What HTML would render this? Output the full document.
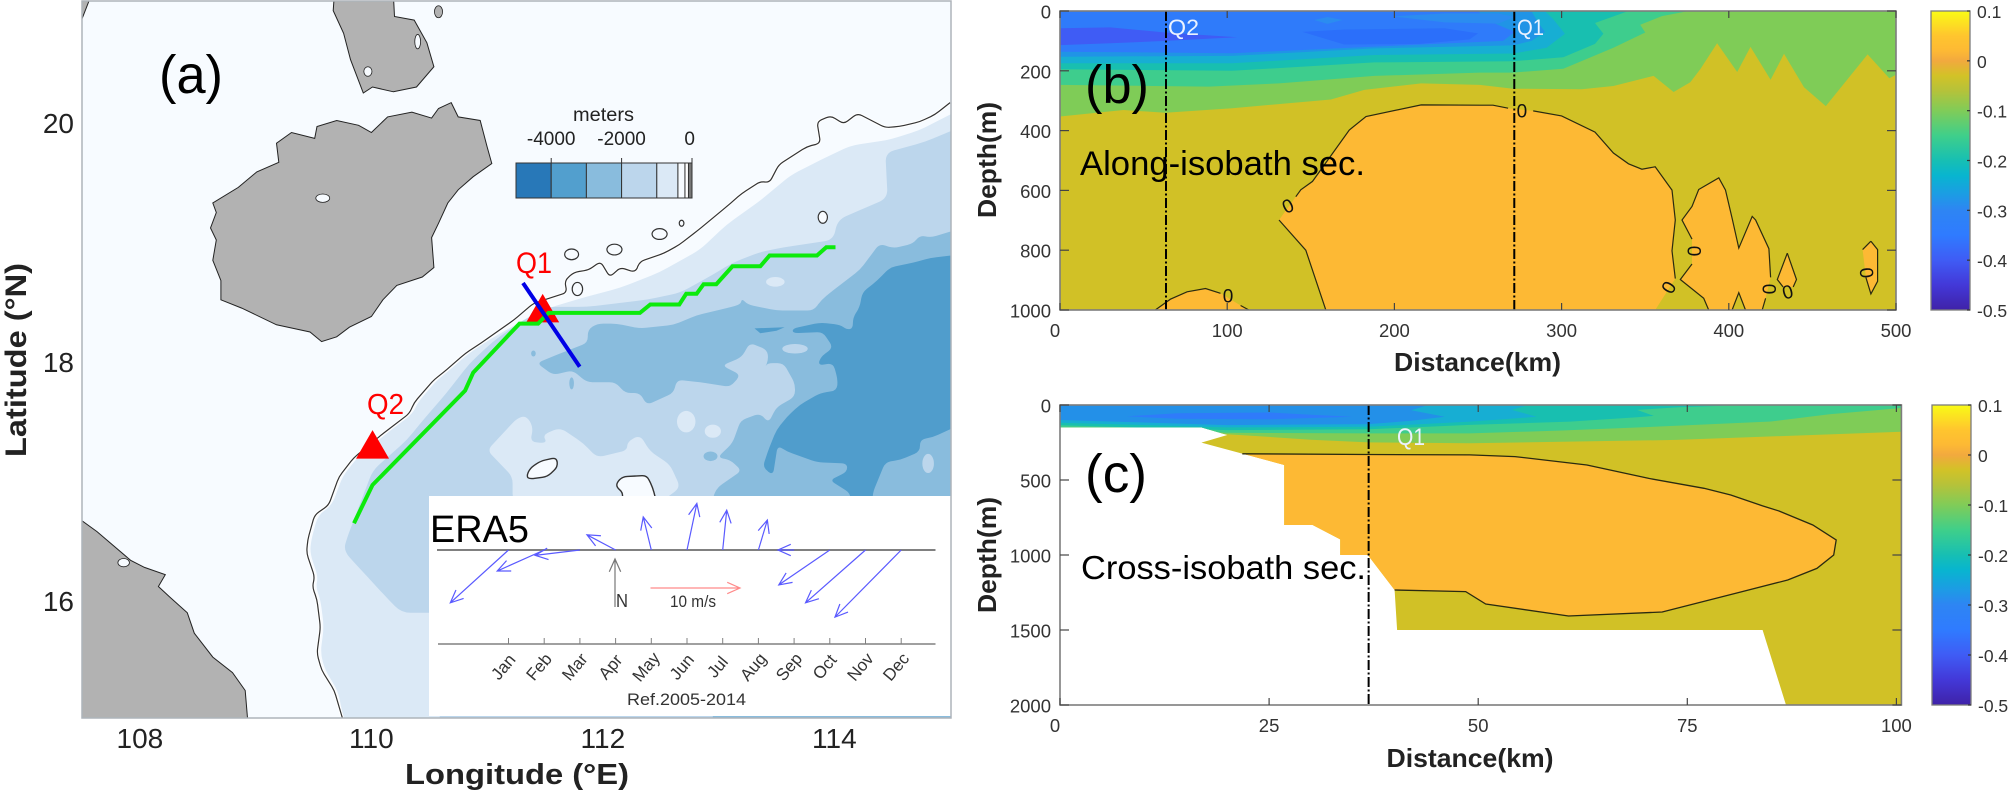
<!DOCTYPE html>
<html lang="en">
<head>
<meta charset="utf-8">
<title>Bathymetry map and velocity sections</title>
<style>
html,body{margin:0;padding:0;background:#fff;}
svg{display:block;font-family:"Liberation Sans",Arial,sans-serif;}
</style>
</head>
<body>
<svg id="figure" xmlns="http://www.w3.org/2000/svg" width="2008" height="793" viewBox="0 0 2008 793">
  <defs id="defs">
    <clipPath id="clip-map"><rect x="82" y="1" width="869" height="717"/></clipPath>
    <clipPath id="clip-b"><rect x="1060" y="11" width="836" height="299"/></clipPath>
    <clipPath id="clip-c-mask"></clipPath>
  </defs>
  <rect x="0" y="0" width="2008" height="793" fill="#fff"/>
  <g id="map-layer" clip-path="url(#clip-map)"></g>
  <g id="map-overlay"></g>
  <g id="inset"></g>
  <g id="legend"></g>
  <g id="panel-b"></g>
  <g id="panel-c"></g>
  <g id="axes"></g>

  <text x="191" y="93" font-size="54" text-anchor="middle" textLength="64" lengthAdjust="spacingAndGlyphs" fill="#000">(a)</text>
  <text x="1117" y="103" font-size="54" text-anchor="middle" textLength="64" lengthAdjust="spacingAndGlyphs" fill="#000">(b)</text>
  <text x="1116" y="492" font-size="54" text-anchor="middle" textLength="62" lengthAdjust="spacingAndGlyphs" fill="#000">(c)</text>
  <text x="1080" y="175" font-size="34" textLength="285" lengthAdjust="spacingAndGlyphs" fill="#000">Along-isobath sec.</text>
  <text x="1081" y="579" font-size="33" textLength="285" lengthAdjust="spacingAndGlyphs" fill="#000">Cross-isobath sec.</text>

  <text x="534" y="273" font-size="30" text-anchor="middle" textLength="36" lengthAdjust="spacingAndGlyphs" fill="#ff0000">Q1</text>
  <text x="385.5" y="414" font-size="29" text-anchor="middle" textLength="37" lengthAdjust="spacingAndGlyphs" fill="#ff0000">Q2</text>

  <text x="430" y="542" font-size="38" textLength="99" lengthAdjust="spacingAndGlyphs" fill="#000">ERA5</text>
  <text x="627" y="705" font-size="17" textLength="119" lengthAdjust="spacingAndGlyphs" fill="#333">Ref.2005-2014</text>
  <text x="616" y="607" font-size="18" textLength="12" lengthAdjust="spacingAndGlyphs" fill="#333">N</text>
  <text x="670" y="607" font-size="17" textLength="46" lengthAdjust="spacingAndGlyphs" fill="#333">10 m/s</text>

  <text x="603.5" y="121" font-size="19" text-anchor="middle" textLength="61" lengthAdjust="spacingAndGlyphs" fill="#222">meters</text>

  <text x="517" y="784" font-size="29" font-weight="bold" text-anchor="middle" textLength="224" lengthAdjust="spacingAndGlyphs" fill="#222">Longitude (°E)</text>
  <text transform="translate(26,360) rotate(-90)" font-size="30" font-weight="bold" text-anchor="middle" textLength="194" lengthAdjust="spacingAndGlyphs" fill="#222">Latitude (°N)</text>
  <text x="1477.5" y="371" font-size="26" font-weight="bold" text-anchor="middle" textLength="167" lengthAdjust="spacingAndGlyphs" fill="#222">Distance(km)</text>
  <text x="1470" y="767" font-size="26" font-weight="bold" text-anchor="middle" textLength="167" lengthAdjust="spacingAndGlyphs" fill="#222">Distance(km)</text>
  <text transform="translate(996,160) rotate(-90)" font-size="26" font-weight="bold" text-anchor="middle" textLength="116" lengthAdjust="spacingAndGlyphs" fill="#222">Depth(m)</text>
  <text transform="translate(996,555) rotate(-90)" font-size="26" font-weight="bold" text-anchor="middle" textLength="116" lengthAdjust="spacingAndGlyphs" fill="#222">Depth(m)</text>

  <text x="1183.5" y="35" font-size="22" text-anchor="middle" textLength="31" lengthAdjust="spacingAndGlyphs" fill="#eaf2ff">Q2</text>
  <text x="1530.5" y="35" font-size="22" text-anchor="middle" textLength="27" lengthAdjust="spacingAndGlyphs" fill="#eaf2ff">Q1</text>
  <text x="1411" y="445" font-size="24" text-anchor="middle" textLength="28" lengthAdjust="spacingAndGlyphs" fill="#eaf2ff">Q1</text>

<script>
/* ---------- Map axis ---------- */
const lonTicks = [108, 110, 112, 114];
const latTicks = [20, 18, 16];

/* ---------- Map data, all in [longitude, latitude] ---------- */
const isobathLine = [[109.75,15.0],[109.68,15.23],[109.57,15.40],[109.53,15.54],[109.56,15.76],[109.53,15.99],[109.49,16.10],[109.51,16.18],[109.44,16.38],[109.45,16.49],[109.51,16.70],[109.63,16.78],[109.72,17.02],[109.85,17.18],[110.10,17.38],[110.33,17.55],[110.37,17.64],[110.54,17.83],[110.62,17.89],[110.81,18.05],[110.98,18.16],[111.23,18.33],[111.40,18.47],[111.69,18.56],[111.67,18.66],[111.75,18.73],[111.88,18.75],[111.98,18.82],[112.06,18.69],[112.15,18.77],[112.28,18.73],[112.32,18.82],[112.53,18.89],[112.66,18.96],[112.82,19.08],[113.07,19.28],[113.20,19.39],[113.36,19.49],[113.44,19.48],[113.52,19.63],[113.76,19.78],[113.88,19.81],[113.85,19.99],[113.97,20.04],[114.08,19.97],[114.20,20.06],[114.44,19.94],[114.56,19.95],[114.74,19.99],[114.87,20.05],[115.0,20.15]];

const hainanCoast = [[110.69,20.15],[110.75,20.03],[110.94,20.00],[111.00,19.78],[111.04,19.64],[110.88,19.53],[110.75,19.42],[110.66,19.31],[110.58,19.14],[110.52,19.02],[110.54,18.77],[110.44,18.69],[110.22,18.62],[110.10,18.50],[110.00,18.36],[109.81,18.27],[109.70,18.19],[109.57,18.15],[109.47,18.23],[109.18,18.29],[108.88,18.43],[108.70,18.50],[108.70,18.66],[108.63,18.83],[108.66,19.00],[108.61,19.10],[108.66,19.23],[108.63,19.31],[108.85,19.44],[109.01,19.57],[109.20,19.65],[109.18,19.81],[109.31,19.90],[109.51,19.85],[109.53,19.95],[109.70,20.00],[109.89,19.96],[110.00,19.90],[110.14,20.03],[110.35,20.07],[110.52,20.02],[110.58,20.10]];
const leizhouCoast = [[109.68,21.05],[109.67,20.92],[109.76,20.73],[109.82,20.51],[109.93,20.23],[110.01,20.28],[110.19,20.24],[110.39,20.28],[110.54,20.45],[110.48,20.65],[110.37,20.84],[110.20,20.87],[110.19,21.05]];
const vietnamCoast = [[107.5,16.65],[107.63,16.56],[107.92,16.32],[108.04,16.26],[108.22,16.20],[108.16,16.10],[108.26,16.01],[108.41,15.88],[108.47,15.71],[108.63,15.51],[108.80,15.38],[108.91,15.23],[108.93,15.0],[107.5,15.0]];
const cornerLand = [[107.4,21.05],[107.58,21.05],[107.5,20.85],[107.4,20.85]];

const shelfLight = [[109.78,14.9],[109.71,15.23],[109.60,15.40],[109.56,15.54],[109.59,15.76],[109.56,15.99],[109.52,16.10],[109.54,16.18],[109.47,16.38],[109.48,16.49],[109.54,16.70],[109.66,16.78],[109.75,17.02],[109.88,17.18],[110.13,17.38],[110.36,17.55],[110.40,17.64],[110.57,17.83],[110.65,17.89],[110.84,18.05],[111.01,18.16],[111.26,18.30],[111.46,18.41],[111.80,18.51],[112.15,18.60],[112.49,18.73],[112.84,18.92],[113.07,19.13],[113.36,19.33],[113.62,19.54],[113.88,19.67],[114.14,19.79],[114.48,19.84],[114.74,19.92],[115.1,20.10],[115.1,14.9]];
const slopeMid = [[115.1,19.95],[114.78,19.82],[114.44,19.73],[114.46,19.35],[114.22,19.25],[114.03,19.17],[113.99,19.00],[113.57,18.94],[113.36,18.90],[113.12,18.81],[112.95,18.71],[112.67,18.56],[112.38,18.50],[111.86,18.44],[111.52,18.44],[111.28,18.31],[111.05,18.15],[110.85,17.97],[110.65,17.72],[110.47,17.52],[110.31,17.33],[110.01,17.07],[109.85,16.66],[109.79,16.51],[109.76,16.40],[109.91,16.24],[110.10,16.04],[110.26,15.88],[110.59,15.88],[110.59,14.9],[115.1,14.9]];
const seamountLight = [[111.00,17.24],[111.26,17.51],[111.34,17.53],[111.40,17.43],[111.37,17.31],[111.52,17.30],[111.48,17.37],[111.63,17.43],[111.83,17.30],[111.95,17.18],[112.21,17.24],[112.21,17.31],[112.32,17.37],[112.41,17.23],[112.58,17.12],[112.67,16.93],[112.52,16.82],[111.22,16.82],[111.22,17.02]];
const basinUpper = [[111.43,17.97],[111.63,18.05],[111.87,18.14],[111.87,18.25],[111.95,18.30],[112.12,18.30],[112.32,18.26],[112.61,18.29],[112.81,18.37],[113.07,18.43],[113.19,18.46],[113.20,18.51],[113.25,18.46],[113.50,18.41],[113.82,18.41],[113.89,18.50],[113.99,18.58],[114.22,18.75],[114.33,18.89],[114.39,18.97],[114.51,18.93],[114.68,18.97],[114.74,19.04],[114.83,19.02],[115.1,19.10],[115.1,14.9],[112.95,14.9],[112.95,16.85],[112.99,16.93],[113.20,17.07],[113.10,17.16],[112.99,17.18],[113.12,17.30],[113.19,17.49],[113.36,17.55],[113.43,17.47],[113.50,17.60],[113.66,17.69],[113.66,17.80],[113.56,17.97],[113.42,17.97],[113.40,17.93],[113.43,18.00],[113.42,18.08],[113.27,18.14],[113.20,18.02],[113.03,17.95],[113.19,17.87],[113.10,17.77],[112.84,17.81],[112.64,17.83],[112.61,17.72],[112.38,17.62],[112.32,17.72],[112.19,17.72],[112.11,17.81],[111.86,17.81],[111.74,17.91],[111.57,17.87]];
const basinDeep = [[115.1,18.88],[114.83,18.85],[114.68,18.81],[114.48,18.77],[114.37,18.66],[114.24,18.56],[114.22,18.44],[114.16,18.35],[114.16,18.26],[114.11,18.25],[114.05,18.29],[113.88,18.31],[113.64,18.26],[113.64,18.22],[113.90,18.23],[113.99,18.10],[113.88,18.02],[113.86,17.95],[113.99,17.97],[114.03,17.83],[114.02,17.74],[113.88,17.72],[113.70,17.62],[113.59,17.52],[113.50,17.41],[113.44,17.27],[113.38,17.10],[113.47,17.03],[113.51,17.28],[113.59,17.23],[113.85,17.14],[114.11,17.13],[114.11,17.06],[113.96,16.99],[114.14,16.88],[114.14,16.65],[114.33,16.65],[114.33,16.88],[114.44,17.14],[114.57,17.16],[114.74,17.23],[114.74,17.33],[114.85,17.35],[115.1,17.46]];
const deepStrip = [[113.31,18.26],[113.57,18.27],[113.50,18.24],[113.36,18.22]];

/* Oval features: [lon, lat, radius in degrees lon, radius in degrees lat] */
const lightOvals = [[112.72,17.48,0.08,0.09],[112.95,17.40,0.07,0.055],[113.49,18.65,0.08,0.04]];
const midOvalsOnBasin = [[113.66,18.09,0.11,0.04],[114.81,17.13,0.05,0.08]];
const basinDots = [[112.93,17.19,0.06,0.04],[111.73,17.80,0.02,0.05],[111.40,18.05,0.02,0.025]];
const contourOvals = [[111.73,18.88,0.06,0.045],[112.10,18.92,0.065,0.045],[112.49,19.05,0.065,0.045],[112.68,19.14,0.02,0.025],[111.78,18.59,0.045,0.055],[113.90,19.19,0.04,0.05]];
const contourIslandA = [[111.34,17.02],[111.37,17.09],[111.46,17.15],[111.60,17.18],[111.61,17.10],[111.52,17.02],[111.37,17.00]];
const contourIslandB = [[112.12,16.97],[112.17,17.02],[112.38,17.03],[112.43,16.93],[112.46,16.82],[112.17,16.82],[112.17,16.89],[112.12,16.93]];
const lakes = [[109.58,19.35,0.06,0.035],[109.97,20.41,0.035,0.04],[110.40,20.66,0.025,0.06],[107.86,16.30,0.05,0.035]];
const smallIslands = [[110.58,20.91,0.035,0.05]];

const alongIsobathSection = [[109.85,16.63],[110.01,16.95],[110.81,17.74],[110.88,17.89],[111.28,18.30],[111.44,18.30],[111.53,18.39],[112.32,18.39],[112.41,18.46],[112.66,18.46],[112.72,18.55],[112.81,18.55],[112.87,18.63],[112.98,18.63],[113.12,18.78],[113.36,18.78],[113.44,18.87],[113.85,18.87],[113.93,18.94],[114.01,18.94]];
const crossIsobathSection = [[111.31,18.64],[111.80,17.94]];
const stationLon = [111.48, 110.01];
const stationLat = [18.39, 17.25];

/* ---------- Inset: monthly wind vectors (m/s) ---------- */
const months = ["Jan","Feb","Mar","Apr","May","Jun","Jul","Aug","Sep","Oct","Nov","Dec"];
const windU = [-6.5,-5.25,-5.0,-3.2,-0.9,1.1,0.45,1.0,-1.8,-5.7,-6.7,-7.4];
const windV = [-5.9,-2.35,-0.6,1.7,3.7,5.2,4.45,3.35,0,-3.9,-5.9,-7.5];
const scaleArrowSpeed = [10];

/* ---------- Depth legend ---------- */
const legendLevels = [-5000,-4000,-3000,-2000,-1000,-400,-200,-100,0];
const legendColors = ["#2878b8","#529fce","#89bcdd","#bcd6ec","#dbe9f6","#f7fbff","#ffffff","#777777"];
const legendTicks = [-4000,-2000,0];

/* ---------- Colour bar ---------- */
const colorbarTicks = [0.1,0,-0.1,-0.2,-0.3,-0.4,-0.5];
const colorbarStopValues = [0.1,0.05,0.02,0,-0.03,-0.06,-0.1,-0.15,-0.2,-0.23,-0.27,-0.3,-0.35,-0.4,-0.45,-0.5];
const colorbarStopColors = ["#f9fb15","#ffc52e","#fdb934","#f2a93e","#d2c227","#b5c23a","#80cc58","#3fcf8a","#17bfb3","#08b5cf","#1d9be5","#2e85f3","#2f7bff","#3f5cf5","#4338d8","#3f22a8"];

/* ---------- Panel b: [distance km, depth m] ---------- */
const bDistanceTicks = [0,100,200,300,400,500];
const bDepthTicks = [0,200,400,600,800,1000];
const bStationKm = [63.4, 271.7];
const bDepthMax = [1000];
const bBandGreenLight = [[0,0],[500,0],[500,213],[496,225],[483,145],[458,318],[445,255],[433,143],[425,230],[413,120],[405,204],[393,108],[383,194],[377,238],[367,271],[355,217],[331,251],[312,262],[271,260],[251,247],[216,242],[182,264],[162,296],[103,325],[63,340],[38,331],[0,353]];
const bBandGreen = [[0,0],[376,0],[360,17],[347,46],[350,72],[331,123],[301,193],[271,206],[251,206],[188,217],[131,242],[89,253],[46,250],[0,247]];
const bBandTeal = [[0,0],[340,0],[320,40],[325,76],[320,110],[301,155],[271,168],[188,172],[103,200],[0,195]];
const bBandCyan = [[0,0],[290,0],[295,27],[302,76],[291,123],[271,142],[188,147],[103,175],[0,175]];
const bBandSky = [[0,0],[282,0],[285,30],[290,70],[282,100],[271,115],[230,120],[188,125],[103,150],[0,153]];
const bBandBlue = [[0,0],[250,0],[255,30],[272,70],[265,100],[225,110],[188,119],[103,141],[0,136]];
const bPatchSkyA = [[152,30],[160,20],[169,30],[160,43]];
const bPatchSkyB = [[199,18],[230,8],[262,8],[272,20],[262,42],[230,38]];
const bPatchDeepBlue = [[145,70],[170,62],[230,58],[250,75],[245,95],[215,110],[170,112]];
const bPatchIndigo = [[0,58],[30,55],[63,72],[106,88],[63,100],[30,108],[0,114]];
/* zero-contours; null marks a gap left for a contour label */
const bZeroMain = [[159,1000],[157,967],[147,800],[131,699],null,[141,621],[144,598],[151,570],[173,398],[183,353],[216,314],[251,315],[259,315],[268,325],null,[283,334],[300,351],[320,405],[331,475],[340,511],[348,529],[356,521],[366,599],[368,699],[366,802],[368,895],null,[356,1000]];
const bZeroSecond = [[388,1000],[385,961],[371,898],[378,846],null,[378,763],[372,699],[378,654],[382,597],[394,558],[398,599],[402,693],[406,793],[414,687],[416,699],[424,795],[425,891],null,[422,961],[420,1000],[410,1000],[406,942],[402,1000]];
const bZeroThird = [[435,810],[440.5,898],[438.5,923],null,[432.5,923],[429,898],[435,810]];
const bZeroFourth = [[485,770],[489,798],[489,904],[485,946],[482,891],null,[480,798],[485,770]];
const bZeroFifth = [[57,1000],[66,964],[76,939],[87,928],[96,944],null,[108,985],[113,1000]];
const bLabelKm = [136.6,100.5,276.3,378.6,364.6,423.4,435.4,481.8];
const bLabelDepth = [655,956,338,803,926,930,943,876];
const bLabelAngle = [-25,0,0,90,-60,90,-15,85];

/* ---------- Panel c: [distance km, depth m] ---------- */
const cDistanceTicks = [0,25,50,75,100];
const cDepthTicks = [0,500,1000,1500,2000];
const cStationKm = [36.9];
const cOceanOutline = [[0,0],[100.6,0],[100.6,2000],[86.8,2000],[84,1500],[40.3,1500],[40,1233],[36.8,1000],[33.5,1000],[33.5,896],[30.2,800],[26.8,800],[26.8,400],[16.9,251],[20,200],[16.9,149],[0,149]];
const cBandGreenLight = [[0,0],[100.6,0],[100.6,178],[73.7,233],[49,255],[36.9,249],[30,232],[25,213],[20,195],[0,170]];
const cBandGreen = [[0,0],[100.6,0],[100.6,20],[92,62],[85,110],[71,145],[60,170],[49,189],[36.9,189],[20,185],[0,150]];
const cBandTeal = [[0,0],[82,0],[74,15],[69,33],[71,73],[69,82],[61,111],[49,133],[36.9,162],[20,167],[0,135]];
const cBandCyan = [[0,0],[56,0],[54,33],[57,78],[53,95],[49,111],[36.9,145],[20,149],[0,118]];
const cBandSky = [[0,0],[44,0],[42,35],[46,78],[42,105],[36.9,127],[20,134],[0,100]];
const cPatchBlue = [[8,75],[14,55],[25,50],[30,65],[35,78],[25,95],[14,92]];
const cZeroContour = [[21.8,325],[36.9,330],[49,333],[54.4,344],[63,400],[70.4,489],[77,555],[80.2,600],[84,673],[86,707],[90,800],[92.8,900],[92.5,1000],[90.5,1089],[87,1167],[81.5,1245],[72,1380],[60.8,1407],[50.9,1327],[48.5,1244],[40,1233]];

/* ---------- Scales ---------- */
const xMap = lon => 82 + (lon - 107.5) * 115.75;
const yMap = lat => 1 + (21 - lat) * 119.5;
const xB = km => 1060 + km * 1.672;
const yB = d => 11 + d * 0.299;
const xC = km => 1060 + km * 8.364;
const yC = d => 405 + d * 0.15;
const monthX = i => 508.5 + i * 35.7;
const speedPx = s => s * 8.95;
const legendX = v => 692 + v * 0.0352;

const NS = 'http://www.w3.org/2000/svg';
function make(parent, tag, attrs, text) {
  const n = document.createElementNS(NS, tag);
  for (const k in attrs) n.setAttribute(k, attrs[k]);
  if (text !== undefined) n.textContent = text;
  parent.appendChild(n);
  return n;
}
const toPts = (arr, fx, fy) => arr.filter(p => p).map(p => fx(p[0]).toFixed(1) + ',' + fy(p[1]).toFixed(1)).join(' ');
function splitRuns(arr) {
  const runs = [];
  let cur = [];
  arr.forEach(p => { if (p) cur.push(p); else { runs.push(cur); cur = []; } });
  runs.push(cur);
  return runs;
}
/* Rounds every vertex of a projected outline so contour bands read as smooth curves */
function roundedPath(arr, fx, fy, closed, radius) {
  const p = arr.map(q => [fx(q[0]), fy(q[1])]);
  const n = p.length;
  const step = (a, b, r) => {
    const dx = b[0] - a[0], dy = b[1] - a[1];
    const len = Math.hypot(dx, dy) || 1;
    const t = Math.min(r, len / 2) / len;
    return [a[0] + dx * t, a[1] + dy * t];
  };
  let d = '';
  const first = closed ? 0 : 1;
  const last = closed ? n - 1 : n - 2;
  if (!closed) d = 'M' + p[0][0].toFixed(1) + ' ' + p[0][1].toFixed(1);
  for (let i = first; i <= last; i++) {
    const prev = p[(i - 1 + n) % n], cur = p[i], next = p[(i + 1) % n];
    const a = step(cur, prev, radius), b = step(cur, next, radius);
    d += (d ? 'L' : 'M') + a[0].toFixed(1) + ' ' + a[1].toFixed(1) + 'Q' + cur[0].toFixed(1) + ' ' + cur[1].toFixed(1) + ' ' + b[0].toFixed(1) + ' ' + b[1].toFixed(1);
  }
  if (!closed) d += 'L' + p[n-1][0].toFixed(1) + ' ' + p[n-1][1].toFixed(1);
  else d += 'Z';
  return d;
}

const mapG = document.getElementById('map-layer');
const overlayG = document.getElementById('map-overlay');
const insetG = document.getElementById('inset');
const legendG = document.getElementById('legend');
const bG = document.getElementById('panel-b');
const cG = document.getElementById('panel-c');
const axesG = document.getElementById('axes');

/* ---------- Map ---------- */
const sea = make(mapG, 'rect', {x:82, y:1, width:869, height:717, fill:'#f7fbff'});



const shelf = make(mapG, 'path', {d: roundedPath(shelfLight, xMap, yMap, true, 9), fill:'#dbe9f6'});



const slope = make(mapG, 'path', {d: roundedPath(slopeMid, xMap, yMap, true, 9), fill:'#bcd6ec'});



const mount = make(mapG, 'path', {d: roundedPath(seamountLight, xMap, yMap, true, 7), fill:'#dbe9f6'});



lightOvals.forEach(o => {
  const e = make(mapG, 'ellipse', {cx:xMap(o[0]), cy:yMap(o[1]), rx:o[2]*115.75, ry:o[3]*119.5, fill:'#dbe9f6'});
  
  
});

const upper = make(mapG, 'path', {d: roundedPath(basinUpper, xMap, yMap, true, 6), fill:'#89bcdd'});



basinDots.forEach(o => {
  const e = make(mapG, 'ellipse', {cx:xMap(o[0]), cy:yMap(o[1]), rx:o[2]*115.75, ry:o[3]*119.5, fill:'#89bcdd'});
  
  
});

const deep = make(mapG, 'path', {d: roundedPath(basinDeep, xMap, yMap, true, 6), fill:'#509dcc'});



const strip = make(mapG, 'polygon', {points: toPts(deepStrip, xMap, yMap), fill:'#509dcc'});



midOvalsOnBasin.forEach(o => {
  const e = make(mapG, 'ellipse', {cx:xMap(o[0]), cy:yMap(o[1]), rx:o[2]*115.75, ry:o[3]*119.5, fill:'#bcd6ec'});
  
  
});

const halo = make(mapG, 'path', {d: roundedPath(isobathLine, xMap, yMap, false, 5), fill:'none', stroke:'#ffffff', 'stroke-width':3.2});



const iso = make(mapG, 'path', {d: roundedPath(isobathLine, xMap, yMap, false, 5), fill:'none', stroke:'#333', 'stroke-width':1.2});



contourOvals.forEach(o => {
  const e = make(mapG, 'ellipse', {cx:xMap(o[0]), cy:yMap(o[1]), rx:o[2]*115.75, ry:o[3]*119.5, fill:'#f7fbff', stroke:'#333', 'stroke-width':1.2});
  
  
});

[contourIslandA, contourIslandB].forEach(a => {
  const e = make(mapG, 'path', {d: roundedPath(a, xMap, yMap, true, 5), fill:'#f7fbff', stroke:'#333', 'stroke-width':1.4});
  
  
});

[hainanCoast, leizhouCoast, vietnamCoast, cornerLand].forEach(a => {
  const e = make(mapG, 'polygon', {points: toPts(a, xMap, yMap), fill:'#b2b2b2', stroke:'#222', 'stroke-width':1});
  
  
});

lakes.forEach(o => {
  const e = make(mapG, 'ellipse', {cx:xMap(o[0]), cy:yMap(o[1]), rx:o[2]*115.75, ry:o[3]*119.5, fill:'#f7fbff', stroke:'#222', 'stroke-width':0.8});
  
  
});

smallIslands.forEach(o => {
  const e = make(mapG, 'ellipse', {cx:xMap(o[0]), cy:yMap(o[1]), rx:o[2]*115.75, ry:o[3]*119.5, fill:'#b2b2b2', stroke:'#222', 'stroke-width':0.8});
  
  
});

stationLon.forEach((lon, i) => {
  const cx = xMap(lon);
  const cy = yMap(stationLat[i]);
  const t = make(overlayG, 'polygon', {points: cx + ',' + (cy-19) + ' ' + (cx-16.5) + ',' + (cy+9.5) + ' ' + (cx+16.5) + ',' + (cy+9.5), fill:'#ff0000'});
  
  
});

const greenLine = make(overlayG, 'polyline', {points: toPts(alongIsobathSection, xMap, yMap), fill:'none', stroke:'#0cea0c', 'stroke-width':4, 'stroke-linejoin':'miter'});



const blueLine = make(overlayG, 'polyline', {points: toPts(crossIsobathSection, xMap, yMap), fill:'none', stroke:'#0000e6', 'stroke-width':4});



/* ---------- Inset ---------- */
const insetBg = make(insetG, 'rect', {x:429, y:496, width:522, height:220, fill:'#ffffff'});



const zeroAxis = make(insetG, 'line', {x1:437, y1:550, x2:935.5, y2:550, stroke:'#808080', 'stroke-width':2});



const monthAxis = make(insetG, 'line', {x1:438, y1:644, x2:935.5, y2:644, stroke:'#808080', 'stroke-width':1.6});



function arrow(parent, x0, y0, x1, y1, color, headLen) {
  const ang = Math.atan2(y1 - y0, x1 - x0);
  const a = ang + Math.PI - 0.42;
  const b = ang + Math.PI + 0.42;
  const d = 'M' + x0 + ' ' + y0 + 'L' + x1 + ' ' + y1 +
    'M' + (x1 + headLen*Math.cos(a)) + ' ' + (y1 + headLen*Math.sin(a)) +
    'L' + x1 + ' ' + y1 +
    'L' + (x1 + headLen*Math.cos(b)) + ' ' + (y1 + headLen*Math.sin(b));
  return make(parent, 'path', {d: d, fill:'none', stroke:color, 'stroke-width':1.2});
}

months.forEach((m, i) => {
  const x = monthX(i);
  const tick = make(insetG, 'line', {x1:x, y1:638, x2:x, y2:644, stroke:'#808080', 'stroke-width':1});
  
  

  const lx = x - 5;
  const ly = 667;
  const lab = make(insetG, 'text', {x:lx, y:ly, 'font-size':17, 'text-anchor':'middle', 'dominant-baseline':'central', fill:'#333', transform:'rotate(-50 ' + lx + ' ' + ly + ')'}, m);
  
  

  const v = arrow(insetG, x, 550, x + speedPx(windU[i]), 550 - speedPx(windV[i]), '#5a5aff', 14);
  
  
});

const northArrow = arrow(insetG, 615, 607, 615, 559, '#777', 14);



const scaleArrow = arrow(insetG, 650.5, 588, 650.5 + speedPx(scaleArrowSpeed[0]), 588, '#ff8a8a', 14);



/* ---------- Legend ---------- */
legendColors.forEach((c, i) => {
  const x0 = legendX(legendLevels[i]);
  const x1 = legendX(legendLevels[i+1]);
  const r = make(legendG, 'rect', {x:x0, y:163, width:x1-x0, height:35, fill:c, stroke:'#333', 'stroke-width':1});
  
  
});

legendTicks.forEach(v => {
  const x = legendX(v);
  const t = make(legendG, 'line', {x1:x, y1:158, x2:x, y2:163, stroke:'#333', 'stroke-width':1});
  
  

  const l = make(legendG, 'text', {x:x, y:145, 'font-size':19, 'text-anchor': v === 0 ? 'end' : 'middle', fill:'#222'}, String(v));
  if (v === 0) l.setAttribute('x', x + 3);
  
  
});

/* ---------- Panel b ---------- */
const bPlot = make(bG, 'g', {'clip-path':'url(#clip-b)'});



const bBase = make(bPlot, 'rect', {x:xB(0), y:yB(0), width:xB(500)-xB(0), height:yB(bDepthMax[0])-yB(0), fill:'#d1c126'});



[bZeroMain, bZeroSecond, bZeroThird, bZeroFourth, bZeroFifth].forEach(a => {
  const o = make(bPlot, 'polygon', {points: toPts(a, xB, yB), fill:'#fdb934'});
  
  
});

const bBands = [bBandGreenLight, bBandGreen, bBandTeal, bBandCyan, bBandSky, bBandBlue, bPatchSkyA, bPatchSkyB, bPatchDeepBlue, bPatchIndigo];
const bBandColors = ['#7fcc57','#3ecd8d','#18bfb0','#17aed3','#2094e6','#2f7bfa','#2b8cf0','#2b8cf0','#2b6ffa','#3f5cf5'];
bBands.forEach((a, i) => {
  const p = make(bPlot, 'polygon', {points: toPts(a, xB, yB), fill:bBandColors[i]});
  
  
});

[bZeroMain, bZeroSecond, bZeroThird, bZeroFourth, bZeroFifth].forEach(a => {
  splitRuns(a).forEach(run => {
    const l = make(bPlot, 'polyline', {points: toPts(run, xB, yB), fill:'none', stroke:'#2a2a10', 'stroke-width':1.2});
    
    
  });
});

bLabelKm.forEach((km, i) => {
  const x = xB(km);
  const y = yB(bLabelDepth[i]);
  const t = make(bPlot, 'text', {x:x, y:y, 'font-size':19, 'text-anchor':'middle', 'dominant-baseline':'central', fill:'#111', transform:'rotate(' + bLabelAngle[i] + ' ' + x + ' ' + y + ')'}, '0');
  
  
});

bStationKm.forEach(km => {
  const l = make(bPlot, 'line', {x1:xB(km), y1:yB(0), x2:xB(km), y2:yB(bDepthMax[0]), stroke:'#000', 'stroke-width':2, 'stroke-dasharray':'10 2.5 2 2.5'});
  
  
});

/* ---------- Panel c ---------- */
document.getElementById('clip-c-mask').appendChild((function () {
  const p = document.createElementNS(NS, 'polygon');
  p.setAttribute('points', toPts(cOceanOutline, xC, yC));
  return p;
})());

const cPlot = make(cG, 'g', {'clip-path':'url(#clip-c-mask)'});



const cBase = make(cPlot, 'rect', {x:xC(0), y:yC(0), width:xC(100.6)-xC(0), height:yC(2000)-yC(0), fill:'#d1c126'});



const cOrange = make(cPlot, 'polygon', {points: toPts(cZeroContour, xC, yC) + ' ' + xC(10) + ',' + yC(1233) + ' ' + xC(10) + ',' + yC(325), fill:'#fdb934'});



const cBands = [cBandGreenLight, cBandGreen, cBandTeal, cBandCyan, cBandSky, cPatchBlue];
const cBandColors = ['#7fcc57','#3ecd8d','#18bfb0','#17aed3','#2390e8','#2f7bfa'];
cBands.forEach((a, i) => {
  const p = make(cPlot, 'polygon', {points: toPts(a, xC, yC), fill:cBandColors[i]});
  
  
});

const cLine = make(cG, 'polyline', {points: toPts(cZeroContour, xC, yC), fill:'none', stroke:'#2a2a10', 'stroke-width':1.3});



cStationKm.forEach(km => {
  const l = make(cG, 'line', {x1:xC(km), y1:yC(0), x2:xC(km), y2:yC(2000), stroke:'#000', 'stroke-width':2, 'stroke-dasharray':'10 2.5 2 2.5'});
  
  
});

/* ---------- Axes ---------- */
const mapFrame = make(axesG, 'rect', {x:82, y:1, width:869, height:717, fill:'none', stroke:'#adb4ba', 'stroke-width':1.5});



lonTicks.forEach(v => {
  const t = make(axesG, 'text', {x:xMap(v), y:748, 'font-size':28, 'text-anchor':'middle', fill:'#222'}, String(v));
  
  
});

latTicks.forEach(v => {
  const t = make(axesG, 'text', {x:74, y:yMap(v) + 12.5, 'font-size':28, 'text-anchor':'end', fill:'#222'}, String(v));
  
  
});

function sectionAxes(g, fx, fy, kmTicks, depthTicks, kmMax, depthMax, labelBaseline) {
  const left = fx(0), right = fx(kmMax), top = fy(0), bottom = fy(depthMax);
  const frame = make(g, 'rect', {x:left, y:top, width:right-left, height:bottom-top, fill:'none', stroke:'#7d7d7d', 'stroke-width':1.6});
  
  

  kmTicks.forEach(k => {
    const x = fx(k);
    const tt = make(g, 'line', {x1:x, y1:top, x2:x, y2:top+7, stroke:'#444', 'stroke-width':1.2});
    
    

    const tb = make(g, 'line', {x1:x, y1:bottom, x2:x, y2:bottom-7, stroke:'#444', 'stroke-width':1.2});
    
    

    const lab = make(g, 'text', {x: k === 0 ? x - 5 : x, y:labelBaseline, 'font-size':18.5, 'text-anchor':'middle', fill:'#333'}, String(k));
    
    
  });

  depthTicks.forEach(d => {
    const y = fy(d);
    const tl = make(g, 'line', {x1:left, y1:y, x2:left+9, y2:y, stroke:'#444', 'stroke-width':1.2});
    
    

    const tr = make(g, 'line', {x1:right, y1:y, x2:right-9, y2:y, stroke:'#444', 'stroke-width':1.2});
    
    

    const lab = make(g, 'text', {x:1051, y:y+7.5, 'font-size':18.5, 'text-anchor':'end', fill:'#333'}, String(d));
    
    
  });
}
sectionAxes(axesG, xB, yB, bDistanceTicks, bDepthTicks, 500, bDepthMax[0], 337);
sectionAxes(axesG, xC, yC, cDistanceTicks, cDepthTicks, 100.6, 2000, 732);

/* ---------- Colour bars ---------- */
const defs = document.getElementById('defs');
const grad = make(defs, 'linearGradient', {id:'parula-grad', x1:0, y1:0, x2:0, y2:1});
colorbarStopValues.forEach((v, i) => {
  make(grad, 'stop', {offset: ((0.1 - v) / 0.6).toFixed(4), 'stop-color': colorbarStopColors[i]});
});

function colorbar(x, top, bottom, labelX) {
  const r = make(axesG, 'rect', {x:x, y:top, width:39, height:bottom-top, fill:'url(#parula-grad)', stroke:'#7d7d7d', 'stroke-width':1.3});
  
  

  colorbarTicks.forEach(v => {
    const y = top + (0.1 - v) / 0.6 * (bottom - top);
    const t = make(axesG, 'line', {x1:x+36, y1:y, x2:x+39, y2:y, stroke:'#333', 'stroke-width':1.2});
    
    

    const l = make(axesG, 'text', {x:labelX, y:y+7, 'font-size':17.5, fill:'#333'}, String(v));
    
    
  });
}
colorbar(1931, 11, 310, 1977);
colorbar(1932, 405, 705, 1978);
</script>
</svg>
</body>
</html>
